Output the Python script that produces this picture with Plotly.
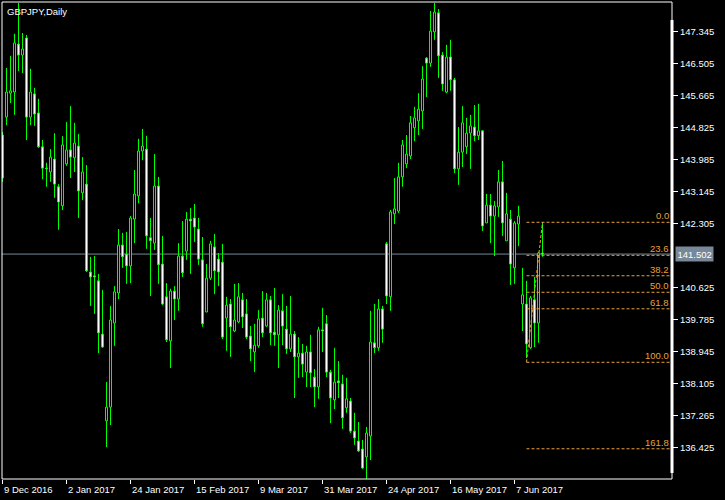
import plotly.graph_objects as go

# ---------------- data ----------------
open_ = [144.63,145.10,145.73,145.76,147.02,146.73,147.18,145.10,145.71,145.21,
         144.32,143.76,143.66,144.00,143.27,142.77,143.87,144.24,144.03,144.34,
         143.11,143.34,141.03,140.93,140.80,139.40,137.12,137.48,139.69,140.48,
         141.74,141.50,141.19,142.42,143.03,144.21,144.26,141.93,141.79,143.29,
         141.24,140.38,139.22,140.53,140.32,141.45,141.58,142.42,142.45,142.16,
         141.35,139.98,140.87,141.69,141.37,141.29,139.82,140.19,139.48,139.72,
         140.30,139.93,139.35,138.93,139.09,139.82,139.61,140.30,139.45,139.38,
         140.01,139.53,139.01,139.40,138.80,138.90,138.40,138.93,138.27,138.01,
         139.51,139.67,138.40,137.67,138.17,138.09,137.46,137.64,136.85,136.59,
         136.38,136.17,136.72,139.17,139.04,140.06,141.77,140.38,142.56,142.63,
         143.53,143.87,144.08,144.82,145.00,145.26,146.65,146.52,147.34,147.84,
         146.73,145.76,146.68,146.08,143.74,144.18,144.32,144.68,144.84,144.61,
         144.74,142.32,142.79,142.50,142.74,143.40,141.85,142.42,141.14,142.29,
         140.19,140.19,139.04,140.30,139.69,141.53]
high = [144.71,146.39,146.71,147.29,148.10,147.31,147.26,146.37,145.87,145.58,
        144.50,143.90,144.26,144.68,143.34,144.60,144.97,145.39,144.95,144.66,
        144.05,143.84,141.43,141.45,140.98,140.56,138.14,140.14,140.66,142.16,
        142.06,142.08,142.50,143.71,144.53,144.79,144.61,142.45,144.13,143.53,
        141.98,140.74,140.59,140.66,141.79,142.37,142.61,142.71,142.82,142.45,
        141.95,141.24,141.85,142.03,141.53,141.77,140.38,140.32,140.72,140.74,
        140.48,140.32,139.61,139.67,140.03,140.53,140.48,140.40,140.61,140.16,
        140.45,140.14,140.40,139.48,139.32,139.14,139.09,139.38,138.48,139.59,
        140.09,139.90,138.46,139.04,138.69,138.33,138.25,137.72,137.33,137.09,
        136.62,136.96,140.01,140.19,140.32,140.14,141.82,142.66,143.50,143.90,
        144.50,144.63,145.13,145.37,145.73,146.44,146.68,147.89,148.10,147.94,
        146.81,147.00,147.13,146.13,144.84,145.39,145.08,145.16,145.42,145.45,
        144.76,143.08,143.08,142.90,143.71,143.95,143.11,142.66,142.37,142.77,
        141.14,140.80,140.40,140.90,141.56,142.32]
low = [143.40,144.89,145.47,145.16,146.31,146.26,144.50,144.89,144.87,144.29,
       143.47,143.27,143.40,142.98,142.14,142.66,143.82,143.50,143.66,142.45,
       142.92,141.03,140.14,139.93,138.90,139.04,136.43,137.01,139.09,140.32,
       141.14,140.72,140.74,141.79,142.84,143.97,141.64,140.40,141.61,140.72,
       140.16,139.19,138.51,139.77,140.01,140.90,141.35,140.98,141.82,141.22,
       139.59,139.98,140.82,140.45,140.66,139.27,138.96,138.80,139.45,139.69,
       139.56,139.27,138.69,138.40,139.04,139.32,139.59,139.11,139.09,138.51,
       139.11,138.88,138.93,137.72,138.25,138.27,138.01,138.01,137.48,137.70,
       138.93,138.27,137.06,137.43,137.72,136.91,137.33,136.80,136.49,136.30,
       135.86,135.59,136.09,138.90,138.96,139.17,140.19,140.01,142.29,142.58,
       143.27,143.76,144.00,144.47,144.63,144.79,145.63,146.42,147.13,146.13,
       145.79,145.73,145.79,143.63,143.32,143.79,144.13,143.74,144.47,144.50,
       142.11,142.32,141.79,141.45,142.48,141.98,141.85,140.69,140.72,141.71,
       139.48,138.77,139.01,139.06,139.17,141.43]
close = [143.50,145.76,145.79,147.05,146.73,146.89,145.10,145.76,145.18,144.32,
         143.76,143.74,144.05,143.34,142.87,144.37,144.24,144.05,144.42,143.16,
         143.66,141.06,140.90,140.90,139.43,139.06,137.48,139.77,140.51,141.74,
         141.43,141.19,142.45,143.08,144.21,144.34,141.98,141.85,143.29,141.22,
         140.19,139.25,140.53,140.32,141.45,141.01,142.42,142.37,142.21,141.37,
         139.67,140.87,141.77,141.06,141.03,139.32,140.16,139.59,139.77,140.38,
         139.85,139.32,139.01,139.11,139.80,139.43,140.30,139.43,139.38,140.03,
         139.61,139.01,139.40,138.80,138.90,138.61,138.93,138.38,138.01,139.51,
         139.48,138.40,137.72,138.14,138.12,137.20,137.70,136.85,136.67,136.33,
         135.88,136.80,139.19,139.04,140.06,139.53,140.40,142.61,142.69,143.53,
         144.37,144.13,144.95,145.08,145.31,146.10,146.52,147.36,147.86,146.71,
         145.97,146.68,146.08,143.74,144.18,144.95,144.68,144.87,144.61,144.74,
         142.24,142.79,142.50,142.77,143.40,142.32,142.56,141.24,142.32,142.50,
         140.43,139.14,140.35,139.69,141.53,141.502]

date_labels = ["9 Dec 2016", "2 Jan 2017", "24 Jan 2017", "15 Feb 2017", "9 Mar 2017",
               "31 Mar 2017", "24 Apr 2017", "16 May 2017", "7 Jun 2017"]
date_label_bars = [0, 16, 32, 48, 64, 80, 96, 112, 128]

price_ticks = [136.425, 137.265, 138.105, 138.945, 139.785, 140.625,
               142.305, 143.145, 143.985, 144.825, 145.665, 146.505, 147.345]
bid_price = 141.502

fib_high = 142.337
fib_low = 138.659
fib_levels = [0.0, 23.6, 38.2, 50.0, 61.8, 100.0, 161.8]
fib_start_bar = 131
fib_end_bar = 135

# ---------------- figure ----------------
GREEN = "#00FF00"
FIB = "#E9A23B"
FONT = "Liberation Sans"
n = len(open_)
idx = list(range(n))

fig = go.Figure()

# wicks (upper and lower parts, so the body interior stays visible)
wx, wy = [], []
for i in idx:
    top = max(open_[i], close[i])
    bot = min(open_[i], close[i])
    if high[i] > top:
        wx += [i, i, None]
        wy += [top, high[i], None]
    if low[i] < bot:
        wx += [i, i, None]
        wy += [low[i], bot, None]
fig.add_trace(go.Scatter(x=wx, y=wy, mode="lines", line=dict(color=GREEN, width=1),
                         hoverinfo="skip"))

# bodies
MINH = 0.02
for bull in (True, False):
    xs, bases, hs = [], [], []
    for i in idx:
        o, c = open_[i], close[i]
        if (c >= o) == bull:
            xs.append(i)
            bases.append(min(o, c))
            hs.append(max(abs(c - o), MINH))
    fig.add_trace(go.Bar(x=xs, y=hs, base=bases, width=0.5,
                         marker=dict(color="#000000" if bull else "#FFFFFF",
                                     line=dict(color=GREEN, width=1)),
                         hoverinfo="skip"))

shapes = []
# bid line
shapes.append(dict(type="line", xref="paper", yref="y", x0=0, x1=1, y0=bid_price, y1=bid_price,
                   line=dict(color="#778899", width=1), layer="below"))
# fib levels
fib_price = {}
for lv in fib_levels:
    p = fib_high - (fib_high - fib_low) * lv / 100.0
    fib_price[lv] = p
    shapes.append(dict(type="line", xref="x", yref="y", x0=fib_start_bar, x1=167.375, y0=p, y1=p,
                       line=dict(color=FIB, width=1, dash="3px,2px")))
shapes.append(dict(type="line", xref="x", yref="y", x0=fib_start_bar, x1=fib_end_bar,
                   y0=fib_low, y1=fib_high, line=dict(color=FIB, width=1, dash="3px,2px")))
# frame
shapes.append(dict(type="rect", xref="paper", yref="paper", x0=0, x1=1, y0=0, y1=1,
                   line=dict(color="#FFFFFF", width=1), layer="above"))
# thick right bar
shapes.append(dict(type="rect", xref="paper", yref="paper", xsizemode="pixel", xanchor=1,
                   x0=-1.5, x1=1.5, y0=0.0126, y1=0.9623, fillcolor="#FFFFFF",
                   line=dict(width=0), layer="above"))

annotations = []
for b, t in zip(date_label_bars, date_labels):
    annotations.append(dict(x=b, xref="x", y=0, yref="paper", text=t, showarrow=False,
                            xanchor="left", yanchor="top", xshift=-1, yshift=-3,
                            font=dict(family=FONT, size=9.5, color="#FFFFFF")))
for lv in fib_levels:
    annotations.append(dict(x=166.9, xref="x", y=fib_price[lv], yref="y", text=f"{lv:.1f}",
                            showarrow=False, xanchor="right", yanchor="bottom", borderpad=0,
                            font=dict(family=FONT, size=9.5, color=FIB)))
annotations.append(dict(x=1, xref="paper", y=bid_price, yref="y", text=f"{bid_price:.3f}",
                        showarrow=False, xanchor="left", yanchor="middle", xshift=3,
                        bgcolor="#778899", borderpad=1.5,
                        font=dict(family=FONT, size=9.5, color="#FFFFFF")))
annotations.append(dict(x=0, xref="paper", y=1, yref="paper", text="GBPJPY,Daily",
                        showarrow=False, xanchor="left", yanchor="top", xshift=3, yshift=-2,
                        font=dict(family=FONT, size=9.5, color="#FFFFFF")))

fig.update_layout(
    width=725, height=500,
    margin=dict(l=2, r=53, t=2, b=21, pad=0),
    paper_bgcolor="#000000", plot_bgcolor="#000000",
    showlegend=False, barmode="overlay",
    shapes=shapes, annotations=annotations,
    xaxis=dict(range=[-0.125, 167.375], showgrid=False, zeroline=False, showline=False,
               tickvals=date_label_bars, ticks="outside", ticklen=4, tickcolor="#FFFFFF",
               showticklabels=False, fixedrange=True),
    yaxis=dict(range=[135.592, 148.125], side="right", showgrid=False, zeroline=False,
               showline=False, tickvals=price_ticks, ticktext=[f"{v:.3f}" for v in price_ticks],
               ticks="outside", ticklen=5, tickcolor="#FFFFFF",
               tickfont=dict(family=FONT, size=9.5, color="#FFFFFF"), fixedrange=True),
)

fig.write_html("out.html", config={"displayModeBar": False},
               post_script="document.body.style.margin='0';document.body.style.background='#000';")
